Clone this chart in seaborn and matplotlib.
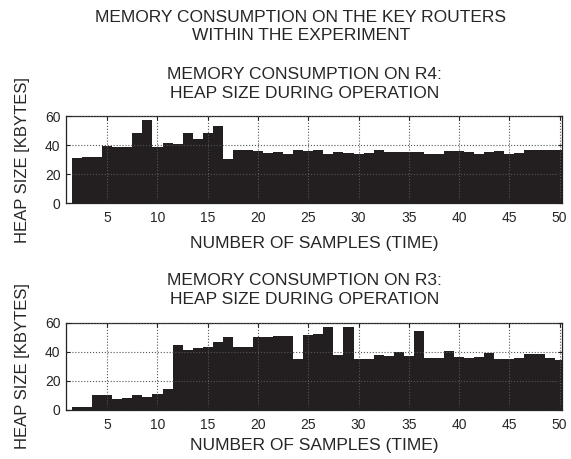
import matplotlib
matplotlib.use("Agg")
import matplotlib.pyplot as plt
import seaborn as sns

sns.set_style("ticks")
plt.rcParams['font.family'] = ['Liberation Sans', 'DejaVu Sans']

# sample index (time) and heap size in kbytes
samples = list(range(2, 51))
heap_r4 = [31, 31.5, 32, 39, 38.5, 38.5, 48, 57, 38.5, 41.5,
           40.5, 48, 44.5, 48.5, 53, 30.5, 36.5, 36.5, 36, 34.5,
           35.5, 34, 36.5, 36, 36.5, 33.5, 35, 34.5, 34, 34.5,
           36.5, 35.5, 35, 35, 35, 34, 33.5, 36, 36, 35,
           34, 35, 36, 33.5, 34.5, 36.5, 36.5, 36.5, 36.5]
heap_r3 = [1.8, 1.8, 10.3, 10.3, 7.6, 8.5, 10.3, 8.7, 11, 14.6,
           45, 41.5, 42.8, 43.5, 46.7, 50.3, 43.5, 43.5, 50.3, 50.5,
           51, 51, 35.2, 51.8, 52.2, 57, 37.8, 57, 35, 35,
           37.8, 37.3, 39.8, 37, 54.2, 35.9, 35.9, 40.5, 36.4, 35.7,
           36.4, 39.1, 35.2, 35.2, 35.9, 38.7, 38.7, 35.9, 34.3]
xticks = [5, 10, 15, 20, 25, 30, 35, 40, 45, 50]
yticks = [0, 20, 40, 60]

bar_color = '#231f20'
fs = 12.5

fig = plt.figure(figsize=(5.71, 4.59), dpi=100)
ax1 = fig.add_axes([0.1156, 0.5577, 0.868, 0.1895])
ax2 = fig.add_axes([0.1156, 0.1068, 0.868, 0.1900])

fig.text(0.527, 0.9425, 'MEMORY CONSUMPTION ON THE KEY ROUTERS\nWITHIN THE EXPERIMENT',
         ha='center', va='center', fontsize=fs, linespacing=1.2)

# axes, values, title, title y, xlabel y, ylabel y (figure fractions)
panels = [(ax1, heap_r4, 'MEMORY CONSUMPTION ON R4:\nHEAP SIZE DURING OPERATION', 0.817, 0.4695, 0.6514),
          (ax2, heap_r3, 'MEMORY CONSUMPTION ON R3:\nHEAP SIZE DURING OPERATION', 0.3685, 0.0305, 0.2018)]

for ax, vals, title, ty, xly, yly in panels:
    sns.barplot(x=samples, y=vals, native_scale=True, width=1, color=bar_color,
                saturation=1, errorbar=None, linewidth=0, ax=ax)
    ax.set_xlim(0.9, 50.2)
    ax.set_ylim(0, 60)
    ax.set_xticks(xticks)
    ax.set_yticks(yticks)
    ax.tick_params(direction='in', length=3, labelsize=10, top=True, right=True,
                   color='#222222')
    ax.tick_params(axis='x', pad=6)
    ax.tick_params(axis='y', pad=4)
    for s in ax.spines.values():
        s.set_visible(True)
        s.set_linewidth(0.9)
        s.set_color('#222222')
    ax.grid(True, linestyle=':', color='#555555', linewidth=0.8)
    ax.set_axisbelow(False)
    ax.set_xlabel('')
    ax.set_ylabel('')
    fig.text(0.533, ty, title, ha='center', va='center', fontsize=fs, linespacing=1.3)
    fig.text(0.55, xly, 'NUMBER OF SAMPLES (TIME)', ha='center', va='center', fontsize=fs)
    fig.text(0.0394, yly, 'HEAP SIZE [KBYTES]', ha='center', va='center', fontsize=12,
             rotation=90)

fig.savefig('out.png', dpi=100)
